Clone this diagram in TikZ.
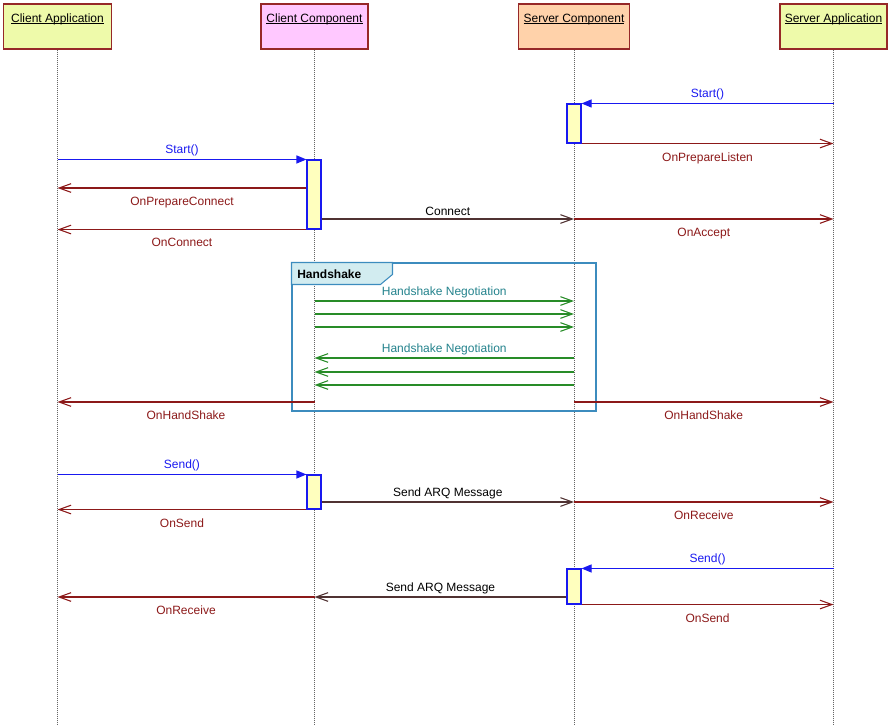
\documentclass[tikz,border=0pt]{standalone}
\usepackage{fontspec}
\setmainfont{Liberation Sans}
\usetikzlibrary{arrows.meta,fit}
\newcommand{\hdrline}[1]{\setbox0\hbox{#1}\rlap{\rule[-1.4pt]{\wd0}{0.5pt}}\box0}

\begin{document}
\begin{tikzpicture}[x=0.75pt,y=-0.75pt,font=\fontsize{9}{11}\selectfont,
  hdr/.style={draw=hdrcol,line width=0.8pt,minimum height=33.75pt,text height=7pt,text depth=13.4pt,inner sep=0pt},
  life/.style={gray!80!black,line width=0.5pt,dash pattern=on 0.75pt off 0.75pt},
  act/.style={draw=callblue,fill=actfill,line width=0.8pt,inner sep=0pt},
  call/.style={callblue,line width=0.8pt,-{Triangle[length=7.5pt,width=6pt]}},
  ret/.style={retred,line width=0.8pt,-{Straight Barb[length=9pt,width=6.5pt]}},
  msg/.style={msgdark,line width=0.8pt,-{Straight Barb[length=9pt,width=6.5pt]}},
  hsmsg/.style={hsgreen,line width=0.8pt,-{Straight Barb[length=9pt,width=6.5pt]}},
  up/.style={above=-1.2pt},
  down/.style={below=3pt},
  frame/.style={draw=framecol,line width=0.8pt,inner sep=0pt}]
% Define colors
\definecolor{appfill}{RGB}{238,250,170}
\definecolor{compfill}{RGB}{255,200,255}
\definecolor{srvfill}{RGB}{255,210,170}
\definecolor{hdrcol}{RGB}{150,40,40}
\definecolor{callblue}{RGB}{25,25,240}
\definecolor{retred}{RGB}{140,25,25}
\definecolor{msgdark}{RGB}{80,50,50}
\definecolor{hsgreen}{RGB}{40,140,40}
\definecolor{hsteal}{RGB}{35,130,140}
\definecolor{framecol}{RGB}{60,140,190}
\definecolor{tabfill}{RGB}{210,236,240}
\definecolor{actfill}{RGB}{255,255,190}

\useasboundingbox (0,0) rectangle (891,724);

% Draw headers
\node[hdr,fill=appfill,minimum width=81pt] (ca) at (57.5,26.5) {\hdrline{Client Application}};
\node[hdr,fill=compfill,minimum width=80.25pt] (cc) at (314.5,26.5) {\hdrline{Client Component}};
\node[hdr,fill=srvfill,minimum width=83.25pt] (sc) at (574,26.5) {\hdrline{Server Component}};
\node[hdr,fill=appfill,minimum width=80.25pt] (sa) at (833.5,26.5) {\hdrline{Server Application}};

% Draw lifelines
\coordinate (bottom) at (0,724);
\foreach \p in {ca,cc,sc,sa}
  \draw[life] (\p.south) -- (\p |- bottom);

% Draw handshake frame
\node[frame,fit={(292,263) (596,411)}] (handshake) {};
\filldraw[draw=framecol,fill=tabfill,line width=0.8pt] (handshake.north west) -- ++(101,0) -- ++(0,12) -- ++(-12,10) -- ++(-89,0) -- cycle;
\node[anchor=west,font=\fontsize{9}{11}\selectfont\bfseries,inner sep=0pt] (hslabel) at (297,274) {Handshake};

% Draw activations
\node[act,fit={(567,104) (581,143)}] (sact1) {};
\node[act,fit={(307,160) (321,229)}] (cact1) {};
\node[act,fit={(307,475) (321,509)}] (cact2) {};
\node[act,fit={(567,569) (581,604)}] (sact2) {};

% Connect phase
\draw[call] (sa |- sact1.north) -- node[up] {Start()} (sact1.north east);
\draw[ret] (sact1.south east) -- node[down] {OnPrepareListen} (sa |- sact1.south);
\draw[call] (ca |- cact1.north) -- node[up] {Start()} (cact1.north west);
\draw[ret] (cact1.west |- 0,188) -- node[down] {OnPrepareConnect} (ca |- 0,188);
\draw[msg] (cact1.east |- 0,219) -- node[up,text=black] {Connect} (sc |- 0,219);
\draw[ret] (sc |- 0,219) -- node[down] {OnAccept} (sa |- 0,219);
\draw[ret] (cact1.south west) -- node[down] {OnConnect} (ca |- cact1.south);

% Handshake messages
\draw[hsmsg] (cc |- 0,301) -- node[up,text=hsteal] {Handshake Negotiation} (sc |- 0,301);
\foreach \y in {314,327}
  \draw[hsmsg] (cc |- 0,\y) -- (sc |- 0,\y);
\draw[hsmsg] (sc |- 0,358) -- node[up,text=hsteal] {Handshake Negotiation} (cc |- 0,358);
\foreach \y in {372,385}
  \draw[hsmsg] (sc |- 0,\y) -- (cc |- 0,\y);
\draw[ret] (cc |- 0,402) -- node[down] {OnHandShake} (ca |- 0,402);
\draw[ret] (sc |- 0,402) -- node[down] {OnHandShake} (sa |- 0,402);

% Data transfer
\draw[call] (ca |- cact2.north) -- node[up] {Send()} (cact2.north west);
\draw[msg] (cact2.east |- 0,502) -- node[up,text=black] {Send ARQ Message} (sc |- 0,502);
\draw[ret] (sc |- 0,502) -- node[down] {OnReceive} (sa |- 0,502);
\draw[ret] (cact2.south west) -- node[down] {OnSend} (ca |- cact2.south);
\draw[call] (sa |- sact2.north) -- node[up] {Send()} (sact2.north east);
\draw[msg] (sact2.west |- 0,597) -- node[up,text=black] {Send ARQ Message} (cc |- 0,597);
\draw[ret] (cc |- 0,597) -- node[down] {OnReceive} (ca |- 0,597);
\draw[ret] (sact2.south east) -- node[down] {OnSend} (sa |- sact2.south);
\end{tikzpicture}
\end{document}
